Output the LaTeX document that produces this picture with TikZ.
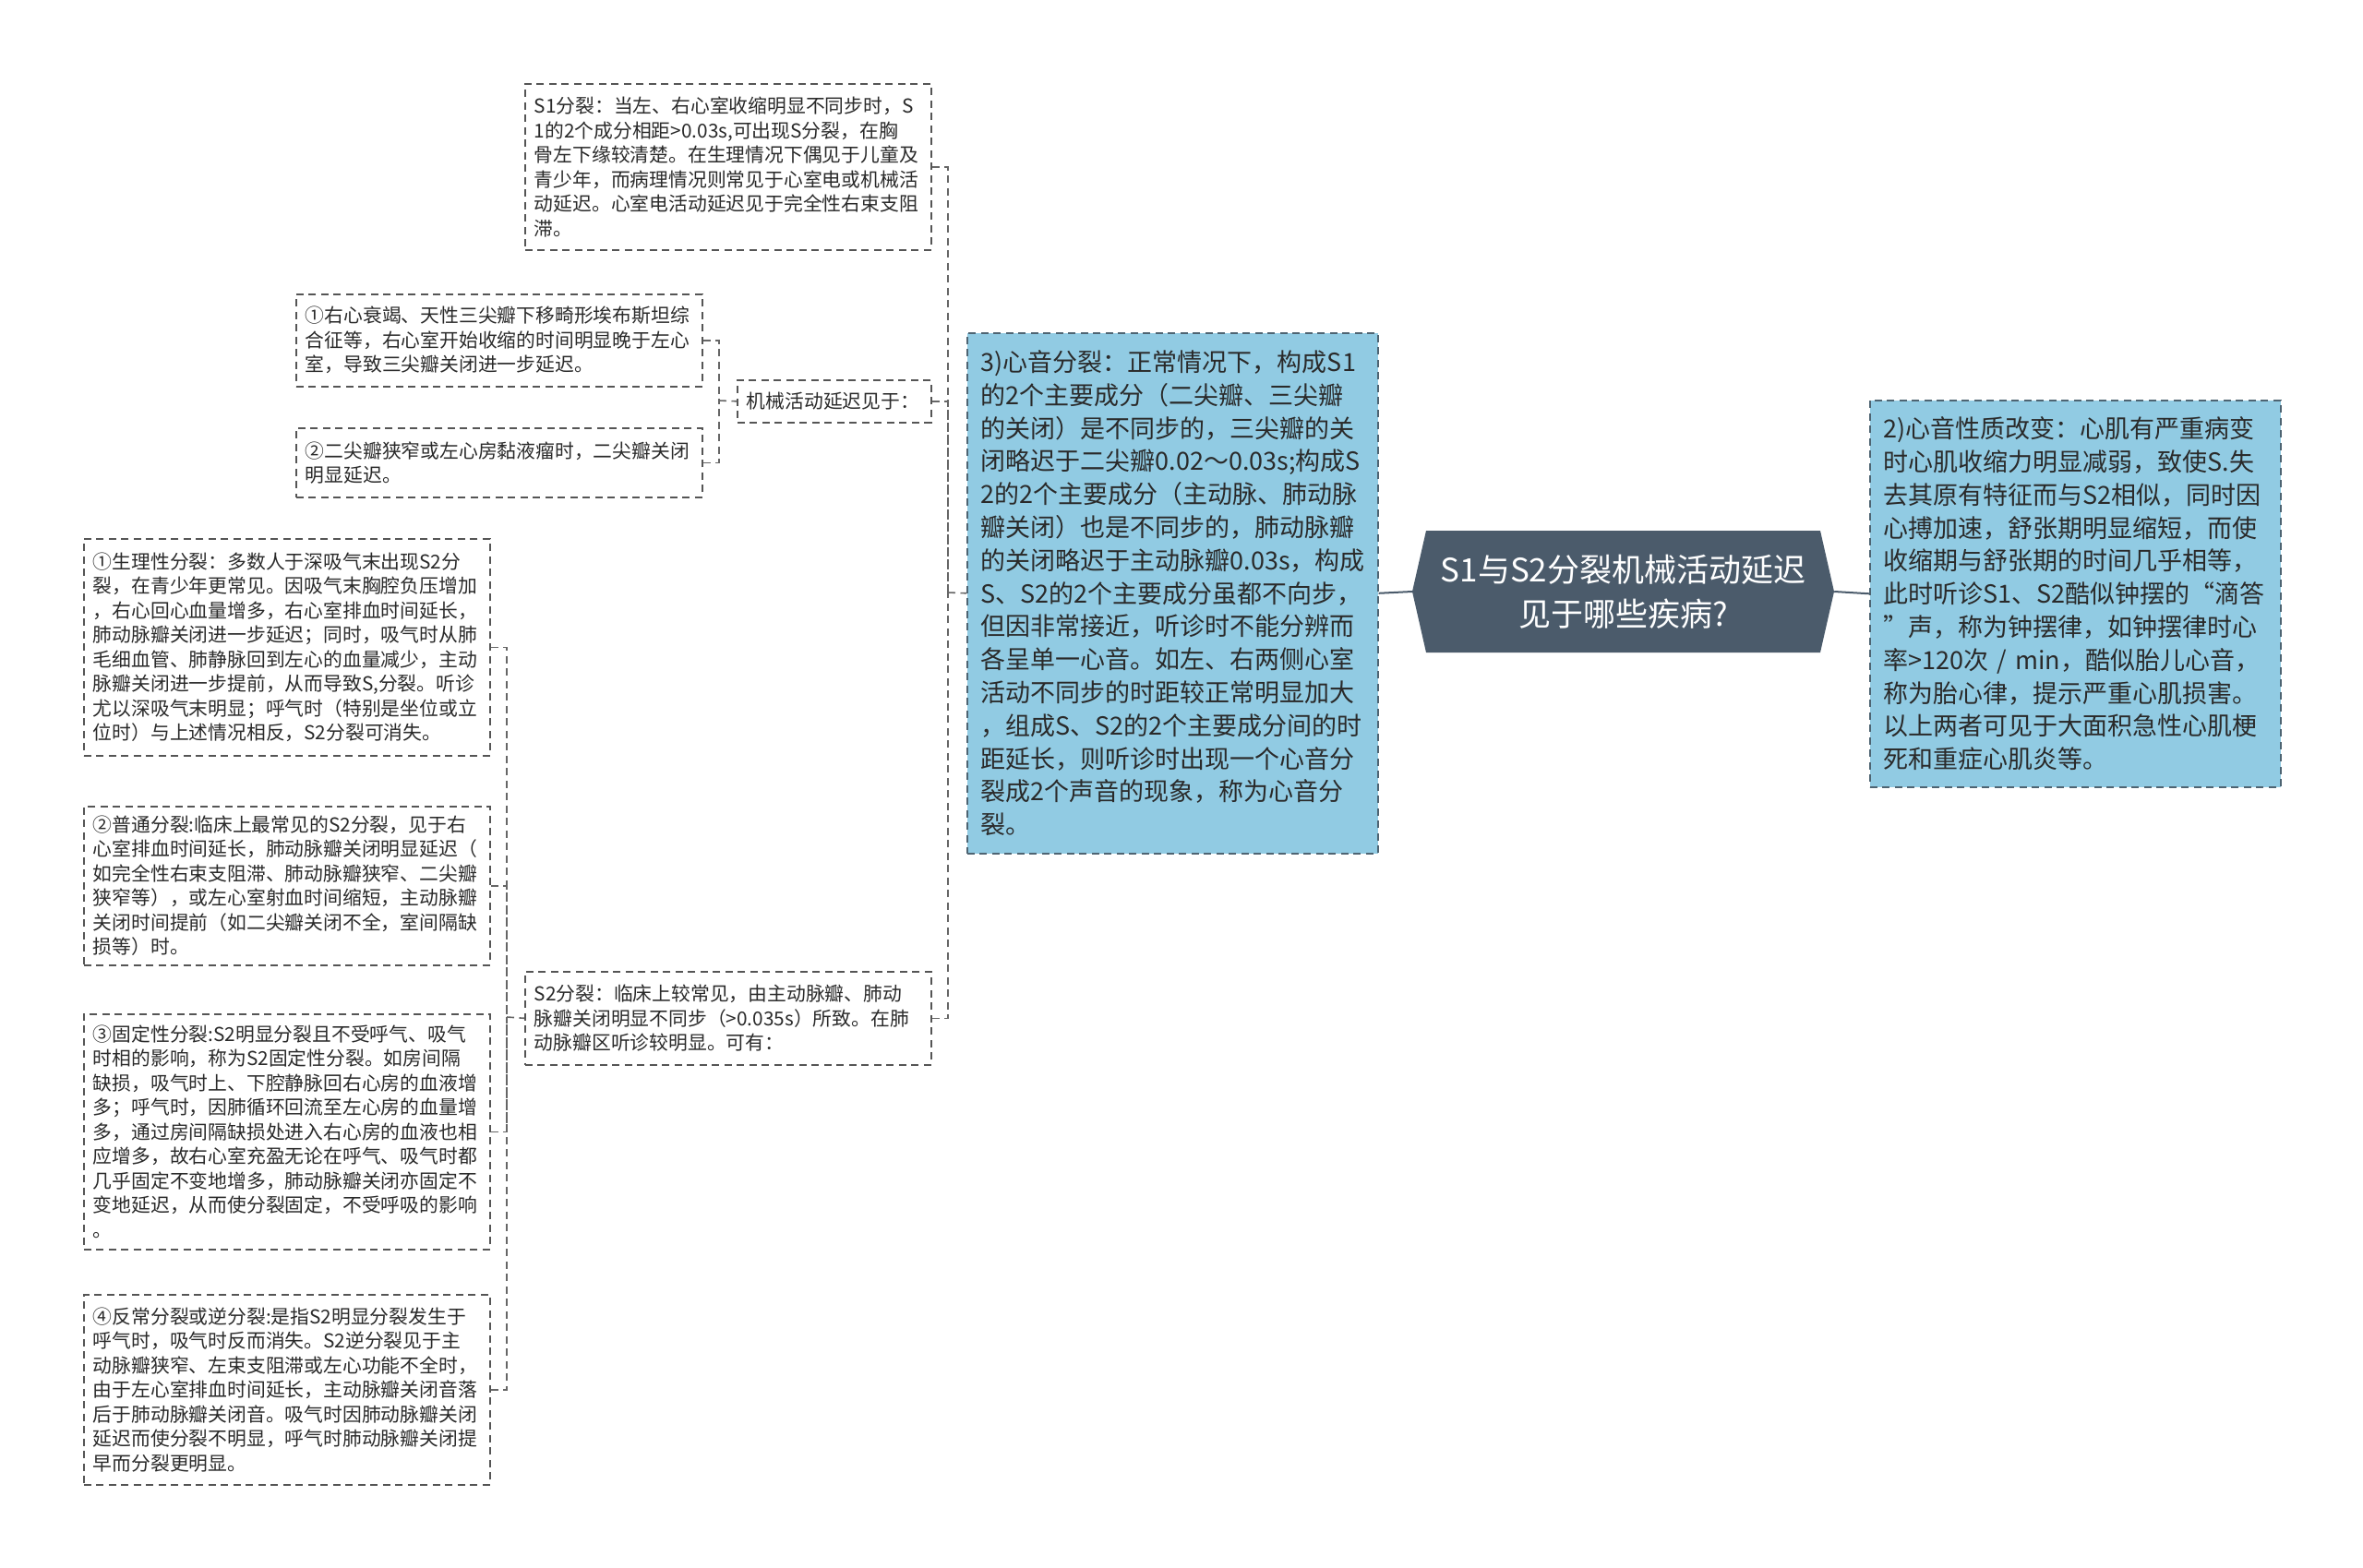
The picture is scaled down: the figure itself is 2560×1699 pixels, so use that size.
\documentclass[tikz,border=0pt]{standalone}
\usepackage{fontspec}
\newfontfamily\cjk{Noto Sans CJK SC}
\definecolor{lightblue}{HTML}{91CBE3}
\definecolor{darkslate}{HTML}{4B5B6B}
\definecolor{bordergray}{HTML}{555555}
\definecolor{linegray}{HTML}{666666}
\definecolor{bluebord}{HTML}{4E6472}
\definecolor{txt}{HTML}{2A2A2A}
\tikzset{
  leaf/.style={draw=bordergray, line width=1.6pt, dash pattern=on 8pt off 5.5pt,
    fill=white, anchor=north west, inner xsep=10pt, inner ysep=3pt, align=left,
    text width=420pt, minimum width=440pt, text=txt,
    font=\cjk\fontsize{20.8}{26.5}\selectfont},
  bluebox/.style={draw=bluebord, line width=1.6pt, dash pattern=on 8pt off 5.5pt,
    fill=lightblue, anchor=north west, inner xsep=15pt, inner ysep=3pt, align=left,
    text width=415pt, minimum width=445pt, text=txt,
    font=\cjk\fontsize{27}{35.8}\selectfont},
  conn/.style={draw=linegray, line width=1.6pt, dash pattern=on 8pt off 5.5pt},
  mainconn/.style={draw=darkslate, line width=2pt},
}
\begin{document}
\begin{tikzpicture}[x=1pt,y=-1pt]
\useasboundingbox (0,0) rectangle (2560,1699);
\fill[white] (0,0) rectangle (2560,1699);

% central topic
\fill[darkslate] (1530,641) -- (1545,575) -- (1972,575) -- (1987,641) -- (1972,707) -- (1545,707) -- cycle;
\node[minimum width=457pt, minimum height=132pt, inner sep=0pt, align=center, text=white,
  font=\cjk\fontsize{35}{48}\selectfont] (center) at (1758.5,641)
  {S1与S2分裂机械活动延迟\\见于哪些疾病?};

% right branch
\node[bluebox, minimum height=419pt] (box2) at (2025,433) {2)心音性质改变：心肌有严重病变\\
时心肌收缩力明显减弱，致使S.失\\
去其原有特征而与S2相似，同时因\\
心搏加速，舒张期明显缩短，而使\\
收缩期与舒张期的时间几乎相等，\\
此时听诊S1、S2酷似钟摆的“滴答\\
”声，称为钟摆律，如钟摆律时心\\
率>120次 / min，酷似胎儿心音，\\
称为胎心律，提示严重心肌损害。\\
以上两者可见于大面积急性心肌梗\\
死和重症心肌炎等。};

% left main branch
\node[bluebox, minimum height=564pt] (box3) at (1047,360) {3)心音分裂：正常情况下，构成S1\\
的2个主要成分（二尖瓣、三尖瓣\\
的关闭）是不同步的，三尖瓣的关\\
闭略迟于二尖瓣0.02～0.03s;构成S\\
2的2个主要成分（主动脉、肺动脉\\
瓣关闭）也是不同步的，肺动脉瓣\\
的关闭略迟于主动脉瓣0.03s，构成\\
S、S2的2个主要成分虽都不向步，\\
但因非常接近，听诊时不能分辨而\\
各呈单一心音。如左、右两侧心室\\
活动不同步的时距较正常明显加大\\
，组成S、S2的2个主要成分间的时\\
距延长，则听诊时出现一个心音分\\
裂成2个声音的现象，称为心音分\\
裂。};

\draw[mainconn] (box3.east) -- (center.west);
\draw[mainconn] (center.east) -- (box2.west);

% second level
\node[leaf, minimum height=180pt] (s1) at (568,90) {S1分裂：当左、右心室收缩明显不同步时，S\\
1的2个成分相距>0.03s,可出现S分裂，在胸\\
骨左下缘较清楚。在生理情况下偶见于儿童及\\
青少年，而病理情况则常见于心室电或机械活\\
动延迟。心室电活动延迟见于完全性右束支阻\\
滞。};

\node[leaf, text width=190pt, minimum width=210pt, minimum height=46pt] (mech) at (798,411) {机械活动延迟见于：};

\node[leaf, minimum height=101pt] (s2) at (568,1052) {S2分裂：临床上较常见，由主动脉瓣、肺动\\
脉瓣关闭明显不同步（>0.035s）所致。在肺\\
动脉瓣区听诊较明显。可有：};

\coordinate (hub) at (1027,642);
\draw[conn] (s1.east) -| (hub);
\draw[conn] (mech.east) -| (hub);
\draw[conn] (s2.east) -| (hub);
\draw[conn] (hub) -- (box3.west);

% children of mech
\node[leaf, minimum height=100pt] (r1) at (320,318) {①右心衰竭、天性三尖瓣下移畸形埃布斯坦综\\
合征等，右心室开始收缩的时间明显晚于左心\\
室，导致三尖瓣关闭进一步延迟。};
\node[leaf, minimum height=75pt] (r2) at (320,463) {②二尖瓣狭窄或左心房黏液瘤时，二尖瓣关闭\\
明显延迟。};

\coordinate (mhub) at (779,434);
\draw[conn] (r1.east) -| (mhub);
\draw[conn] (r2.east) -| (mhub);
\draw[conn] (mhub) -- (mech.west);

% children of S2
\node[leaf, minimum height=235pt] (p1) at (90,583) {①生理性分裂：多数人于深吸气末出现S2分\\
裂，在青少年更常见。因吸气末胸腔负压增加\\
，右心回心血量增多，右心室排血时间延长，\\
肺动脉瓣关闭进一步延迟；同时，吸气时从肺\\
毛细血管、肺静脉回到左心的血量减少，主动\\
脉瓣关闭进一步提前，从而导致S,分裂。听诊\\
尤以深吸气末明显；呼气时（特别是坐位或立\\
位时）与上述情况相反，S2分裂可消失。};

\node[leaf, minimum height=172pt] (p2) at (90,873) {②普通分裂:临床上最常见的S2分裂，见于右\\
心室排血时间延长，肺动脉瓣关闭明显延迟（\\
如完全性右束支阻滞、肺动脉瓣狭窄、二尖瓣\\
狭窄等），或左心室射血时间缩短，主动脉瓣\\
关闭时间提前（如二尖瓣关闭不全，室间隔缺\\
损等）时。};

\node[leaf, minimum height=255pt] (p3) at (90,1098) {③固定性分裂:S2明显分裂且不受呼气、吸气\\
时相的影响，称为S2固定性分裂。如房间隔\\
缺损，吸气时上、下腔静脉回右心房的血液增\\
多；呼气时，因肺循环回流至左心房的血量增\\
多，通过房间隔缺损处进入右心房的血液也相\\
应增多，故右心室充盈无论在呼气、吸气时都\\
几乎固定不变地增多，肺动脉瓣关闭亦固定不\\
变地延迟，从而使分裂固定，不受呼吸的影响\\
。};

\node[leaf, minimum height=206pt] (p4) at (90,1402) {④反常分裂或逆分裂:是指S2明显分裂发生于\\
呼气时，吸气时反而消失。S2逆分裂见于主\\
动脉瓣狭窄、左束支阻滞或左心功能不全时，\\
由于左心室排血时间延长，主动脉瓣关闭音落\\
后于肺动脉瓣关闭音。吸气时因肺动脉瓣关闭\\
延迟而使分裂不明显，呼气时肺动脉瓣关闭提\\
早而分裂更明显。};

\coordinate (shub) at (549,1102);
\draw[conn] (p1.east) -| (shub);
\draw[conn] (p2.east) -| (shub);
\draw[conn] (p3.east) -| (shub);
\draw[conn] (p4.east) -| (shub);
\draw[conn] (shub) -- (s2.west);
\end{tikzpicture}
\end{document}
